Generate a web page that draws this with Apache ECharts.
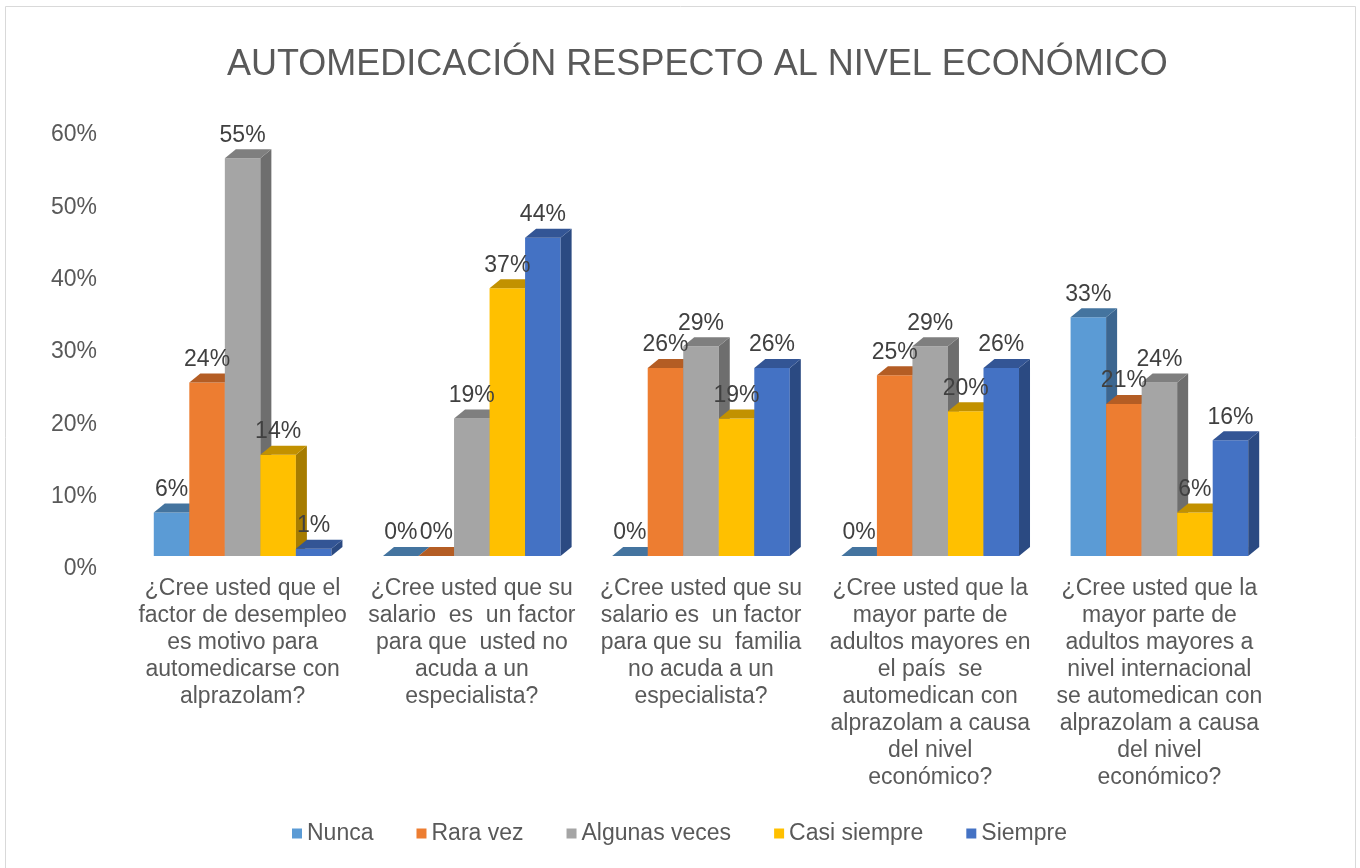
<!DOCTYPE html>
<html>
<head>
<meta charset="utf-8">
<title>Automedicación respecto al nivel económico</title>
<script src="https://cdn.jsdelivr.net/npm/echarts@6/dist/echarts.min.js"></script>
<style>
  html, body { margin: 0; padding: 0; background: #fff; }
  #chart { width: 1360px; height: 868px; }
</style>
</head>
<body>
<div id="chart"></div>
<script>
// preguntas (eje x)
var categories = [
  '¿Cree usted que el\nfactor de desempleo\nes motivo para\nautomedicarse con\nalprazolam?',
  '¿Cree usted que su\nsalario  es  un factor\npara que  usted no\nacuda a un\nespecialista?',
  '¿Cree usted que su\nsalario es  un factor\npara que su  familia\nno acuda a un\nespecialista?',
  '¿Cree usted que la\nmayor parte de\nadultos mayores en\nel país  se\nautomedican con\nalprazolam a causa\ndel nivel\neconómico?',
  '¿Cree usted que la\nmayor parte de\nadultos mayores a\nnivel internacional\nse automedican con\nalprazolam a causa\ndel nivel\neconómico?'
];
var seriesNames = ['Nunca', 'Rara vez', 'Algunas veces', 'Casi siempre', 'Siempre'];

// porcentajes
var nunca        = [6, 0, 0, 0, 33];
var raraVez      = [24, 0, 26, 25, 21];
var algunasVeces = [55, 19, 29, 29, 24];
var casiSiempre  = [14, 37, 19, 20, 6];
var siempre      = [1, 44, 26, 26, 16];

var yTicks = [0, 10, 20, 30, 40, 50, 60];

var allValues = [nunca, raraVez, algunasVeces, casiSiempre, siempre];

// colores: frente, tapa, lateral
var faceColors = [
  ['#5B9BD5', '#44749F', '#3C6690'],
  ['#ED7D31', '#B45D24', '#A1531F'],
  ['#A5A5A5', '#7F7F7F', '#6E6E6E'],
  ['#FFC000', '#C29100', '#A67C00'],
  ['#4472C4', '#335595', '#2B4A82']
];

var FONT = '"Liberation Sans", Arial, sans-serif';
var BAR_RATIO = 0.155;   // ancho de barra respecto a la categoría
var DX = 11, DY = 9;     // profundidad del efecto 3D

var myChart = echarts.init(document.getElementById('chart'));

function renderBar(params, api) {
  var k = params.seriesIndex;
  var cat = api.value(0);
  var val = api.value(1);
  var base = api.coord([cat, 0]);
  var top = api.coord([cat, val]);
  var bw = api.size([1, 0])[0] * BAR_RATIO;
  var x0 = base[0] + (k - 2.5) * bw;
  var ty = top[1], by = base[1];
  var c = faceColors[k];
  var children = [];

  if (by - ty > 0.5) {
    children.push({
      type: 'rect',
      shape: { x: x0, y: ty, width: bw, height: by - ty },
      style: { fill: c[0] }
    });
    children.push({
      type: 'polygon',
      shape: { points: [[x0 + bw, ty], [x0 + bw + DX, ty - DY], [x0 + bw + DX, by - DY], [x0 + bw, by]] },
      style: { fill: c[2] }
    });
  }
  children.push({
    type: 'polygon',
    shape: { points: [[x0, ty], [x0 + DX, ty - DY], [x0 + bw + DX, ty - DY], [x0 + bw, ty]] },
    style: { fill: c[1] }
  });
  children.push({
    type: 'text',
    z2: 100,
    style: {
      x: x0 + bw / 2,
      y: ty - 23,
      text: val + '%',
      align: 'center',
      verticalAlign: 'middle',
      fill: '#404040',
      font: '23px ' + FONT
    }
  });
  return { type: 'group', children: children };
}

var series = seriesNames.map(function (name, k) {
  return {
    name: name,
    type: 'custom',
    renderItem: renderBar,
    itemStyle: { color: faceColors[k][0] },
    encode: { x: 0, y: 1 },
    data: allValues[k].map(function (v, i) { return [i, v]; })
  };
});

myChart.setOption({
  animation: false,
  textStyle: { fontFamily: FONT },
  title: {
    text: 'AUTOMEDICACIÓN RESPECTO AL NIVEL ECONÓMICO',
    left: 222,
    top: 42,
    textStyle: { fontSize: 36, fontWeight: 'normal', color: '#595959', fontFamily: FONT }
  },
  legend: {
    data: seriesNames,
    left: 287,
    top: 817,
    itemWidth: 10,
    itemHeight: 10,
    itemGap: 43,
    icon: 'rect',
    textStyle: { fontSize: 23, color: '#595959', fontFamily: FONT }
  },
  grid: { left: 128, right: 86, top: 122, bottom: 312, containLabel: false },
  xAxis: {
    type: 'category',
    data: categories,
    axisLine: { show: false },
    axisTick: { show: false },
    axisLabel: {
      interval: 0,
      margin: 19,
      fontSize: 23,
      lineHeight: 27,
      color: '#595959',
      align: 'center',
      fontFamily: FONT
    }
  },
  yAxis: {
    type: 'value',
    min: yTicks[0],
    max: yTicks[yTicks.length - 1],
    interval: 10,
    splitLine: { show: false },
    axisLine: { show: false },
    axisTick: { show: false },
    axisLabel: {
      // línea vacía para bajar la etiqueta como en el original
      formatter: function (v) { return '\n' + v + '%'; },
      margin: 31,
      fontSize: 23,
      lineHeight: 26,
      color: '#595959',
      fontFamily: FONT
    }
  },
  graphic: [{
    type: 'rect',
    shape: { x: 5.5, y: 6.5, width: 1350, height: 880 },
    style: { fill: null, stroke: '#D9D9D9', lineWidth: 1 },
    silent: true
  }],
  series: series
});
</script>
</body>
</html>
